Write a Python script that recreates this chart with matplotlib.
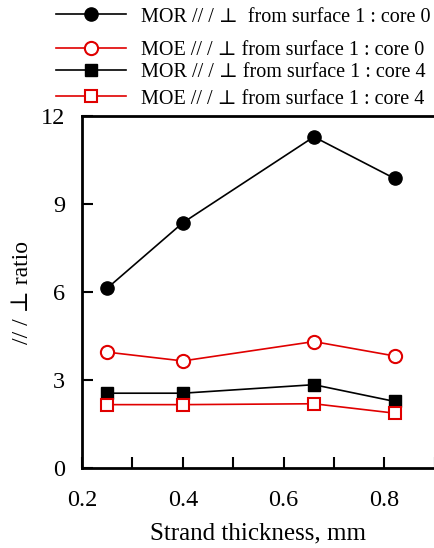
import matplotlib
matplotlib.use("Agg")
import matplotlib.pyplot as plt
from matplotlib.ticker import MultipleLocator

plt.rcParams['font.family'] = ['Liberation Serif', 'DejaVu Serif']

thickness = [0.25, 0.40, 0.66, 0.82]
mor_core0 = [6.13, 8.36, 11.29, 9.87]
moe_core0 = [3.95, 3.65, 4.31, 3.82]
mor_core4 = [2.55, 2.55, 2.84, 2.27]
moe_core4 = [2.16, 2.16, 2.19, 1.87]

labels = [
    "MOR // / \u22a5  from surface 1 : core 0",
    "MOE // / \u22a5 from surface 1 : core 0",
    "MOR // / \u22a5 from surface 1 : core 4",
    "MOE // / \u22a5 from surface 1 : core 4",
]

W, H = 434, 548
fig = plt.figure(figsize=(W / 100, H / 100), dpi=100)
ax = fig.add_axes([82 / W, 1 - 468 / H, (W - 82) / W + 0.002, (468 - 116) / H])

red = '#e00000'
h1, = ax.plot(thickness, mor_core0, '-o', color='black', lw=1.2, ms=9.5,
              mfc='black', mec='black', label=labels[0])
h2, = ax.plot(thickness, moe_core0, '-o', color=red, lw=1.2, ms=9.5,
              mfc='white', mec=red, mew=1.5, label=labels[1])
h3, = ax.plot(thickness, mor_core4, '-s', color='black', lw=1.2, ms=9,
              mfc='black', mec='black', label=labels[2])
h4, = ax.plot(thickness, moe_core4, '-s', color=red, lw=1.2, ms=9,
              mfc='white', mec=red, mew=1.5, label=labels[3])

ax.set_xlim(0.2, 0.9)
ax.set_ylim(0, 12)
ax.xaxis.set_minor_locator(MultipleLocator(0.1))
ax.yaxis.set_major_locator(MultipleLocator(3))
ax.set_xticks([0.2, 0.4, 0.6, 0.8])
ax.set_xticklabels(['0.2', '0.4', '0.6', '0.8'])
ax.tick_params(axis='both', which='both', direction='in', labelsize=17.5,
               width=1.5, top=False, right=False)
ax.tick_params(axis='both', which='major', length=8)
ax.tick_params(axis='x', which='major', pad=16)
ax.tick_params(axis='y', which='major', pad=12)
ax.tick_params(axis='x', which='minor', length=8)
for s in ['left', 'bottom', 'top']:
    ax.spines[s].set_linewidth(2)
ax.spines['right'].set_visible(False)

ax.set_xlabel('Strand thickness, mm', fontsize=18, labelpad=8)
ax.set_ylabel('// / \u22a5 ratio', fontsize=17, labelpad=6)

# legend rows (pixel centres from top)
rows = [17, 50, 72, 99]
for h, r in zip([h1, h2, h3, h4], rows):
    fig.legend(handles=[h], loc='center left',
               bbox_to_anchor=(60 / W - 0.01, 1 - r / H), frameon=False,
               fontsize=14.5, handlelength=3.5, handletextpad=0.75,
               borderaxespad=0.0, borderpad=0.0)

fig.savefig('out.png', dpi=100)
